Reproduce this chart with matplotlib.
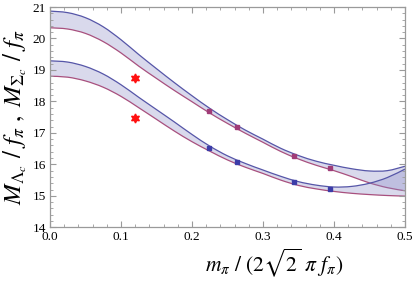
import numpy as np
import matplotlib
matplotlib.use("Agg")
import matplotlib.pyplot as plt
from matplotlib.ticker import MultipleLocator
from matplotlib.path import Path
from matplotlib.patches import PathPatch

# ---- data ----
x_grid = [0.0, 0.025, 0.05, 0.075, 0.1, 0.125, 0.15, 0.175, 0.2, 0.225, 0.25,
          0.275, 0.3, 0.325, 0.35, 0.375, 0.4, 0.425, 0.45, 0.475, 0.5]
sigma_upper = [20.87, 20.82, 20.66, 20.37, 19.96, 19.49, 19.04, 18.60, 18.18, 17.78, 17.42,
               17.09, 16.80, 16.51, 16.28, 16.10, 15.97, 15.86, 15.79, 15.80, 15.94]
sigma_lower = [20.34, 20.30, 20.16, 19.90, 19.54, 19.12, 18.73, 18.35, 17.99, 17.63, 17.30,
               16.99, 16.70, 16.41, 16.17, 15.97, 15.80, 15.61, 15.41, 15.26, 15.16]
lambda_upper = [19.29, 19.25, 19.11, 18.87, 18.53, 18.13, 17.74, 17.35, 16.95, 16.58, 16.27,
                16.03, 15.82, 15.62, 15.45, 15.34, 15.28, 15.30, 15.40, 15.58, 15.85]
lambda_lower = [18.80, 18.77, 18.65, 18.45, 18.16, 17.80, 17.43, 17.06, 16.72, 16.42, 16.14,
                15.91, 15.71, 15.50, 15.33, 15.22, 15.14, 15.08, 15.04, 15.01, 14.99]

lattice_x = [0.224, 0.263, 0.343, 0.395]
lattice_sigma = [17.70, 17.19, 16.26, 15.87]
lattice_lambda = [16.51, 16.09, 15.43, 15.21]

phys_x = [0.12, 0.12]
phys_y = [18.75, 17.46]

x_ticks = [0.0, 0.1, 0.2, 0.3, 0.4, 0.5]
y_ticks = [14, 15, 16, 17, 18, 19, 20, 21]

# ---- styling ----
plt.rcParams['mathtext.fontset'] = 'stix'
plt.rcParams['font.family'] = ['Liberation Serif', 'DejaVu Serif']

blue = '#5656a8'
pink = '#a8507e'
fillc = '#8c8cc8'
frame = '#9a9a9a'


def bezier_segments(xs, ys):
    """Catmull-Rom style smooth path through the read points."""
    p = np.column_stack([xs, ys]).astype(float)
    n = len(p)
    verts, codes = [p[0]], [Path.MOVETO]
    for i in range(n - 1):
        p0 = p[i - 1] if i > 0 else p[i]
        p1, p2 = p[i], p[i + 1]
        p3 = p[i + 2] if i + 2 < n else p[i + 1]
        c1 = p1 + (p2 - p0) / 6.0
        c2 = p2 - (p3 - p1) / 6.0
        verts += [c1, c2, p2]
        codes += [Path.CURVE4] * 3
    return verts, codes


fig = plt.figure(figsize=(4.15, 2.85), dpi=100)
ax = fig.add_axes([50/415, 1-227.3/285, 355/415, 220.3/285])

for up, lo in [(sigma_upper, sigma_lower), (lambda_upper, lambda_lower)]:
    vu, cu = bezier_segments(x_grid, up)
    vl, cl = bezier_segments(x_grid[::-1], lo[::-1])
    verts = vu + [vl[0]] + vl[1:] + [vu[0]]
    codes = cu + [Path.LINETO] + cl[1:] + [Path.CLOSEPOLY]
    ax.add_patch(PathPatch(Path(verts, codes), facecolor=fillc, alpha=0.33, lw=0))
    ax.add_patch(PathPatch(Path(vu, cu), facecolor='none', edgecolor=blue, lw=0.9))
    vl2, cl2 = bezier_segments(x_grid, lo)
    ax.add_patch(PathPatch(Path(vl2, cl2), facecolor='none', edgecolor=pink, lw=0.9))

ax.plot(lattice_x, lattice_sigma, ls='none', marker='s', ms=3.2, color='#a03c78')
ax.plot(lattice_x, lattice_lambda, ls='none', marker='s', ms=3.2, color='#3c3ca8')
ax.plot(phys_x, phys_y, ls='none', marker=(6, 1, 0), ms=6.5, color='#ff1010')

ax.set_xlim(0, 0.5)
ax.set_ylim(14, 21)
ax.set_xticks(x_ticks)
ax.set_xticklabels([f"{v:.1f}" for v in x_ticks])
ax.set_yticks(y_ticks)
ax.set_yticklabels([str(v) for v in y_ticks])
ax.xaxis.set_minor_locator(MultipleLocator(0.02))
ax.yaxis.set_minor_locator(MultipleLocator(0.2))
ax.tick_params(which='both', direction='in', top=True, right=True, color=frame,
               labelsize=9.5, pad=3)
ax.tick_params(which='major', length=4, width=0.8)
ax.tick_params(which='minor', length=2, width=0.6)
for s in ax.spines.values():
    s.set_color(frame)
    s.set_linewidth(0.9)

ax.set_xlabel(r'$m_\pi\ /\ (2\sqrt{2}\ \pi\ f_\pi)$', fontsize=15.5)
ax.set_ylabel(r'$M_{\Lambda_c}\ /\ f_\pi\ ,\ M_{\Sigma_c}\ /\ f_\pi$', fontsize=18)
ax.xaxis.set_label_coords(0.63, -0.088)
ax.yaxis.set_label_coords(-0.058, 0.5)

fig.savefig('out.png', dpi=100)
